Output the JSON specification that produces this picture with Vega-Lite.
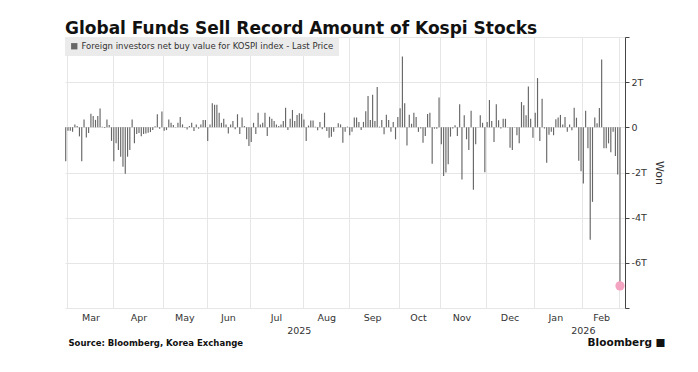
{
  "$schema": "https://vega.github.io/schema/vega-lite/v6.json",
  "autosize": {"type": "none"},
  "padding": {"left": 65, "top": 37, "right": 73, "bottom": 64},
  "width": 560,
  "height": 271,
  "background": "white",
  "config": {"view": {"stroke": null}},
  "title": {
    "text": "Global Funds Sell Record Amount of Kospi Stocks",
    "anchor": "start", "frame": "group", "font": "DejaVu Sans", "fontSize": 17, "fontWeight": "bold",
    "color": "#111111", "baseline": "alphabetic", "offset": 9, "dy": 23
  },
  "data": {"values": [
    {"d":"2025-02-28","v":-1.5},
    {"d":"2025-03-04","v":-0.15},{"d":"2025-03-05","v":-0.15},{"d":"2025-03-06","v":-0.2},{"d":"2025-03-07","v":0.13},{"d":"2025-03-10","v":0.06},
    {"d":"2025-03-11","v":-0.4},{"d":"2025-03-12","v":-1.5},{"d":"2025-03-13","v":0.35},{"d":"2025-03-14","v":-0.45},{"d":"2025-03-17","v":-0.25},
    {"d":"2025-03-18","v":0.6},{"d":"2025-03-19","v":0.5},{"d":"2025-03-20","v":0.33},{"d":"2025-03-21","v":0.5},{"d":"2025-03-24","v":0.83},
    {"d":"2025-03-25","v":0.03},{"d":"2025-03-26","v":-0.03},{"d":"2025-03-27","v":0.35},{"d":"2025-03-28","v":0.1},{"d":"2025-03-31","v":-0.6},
    {"d":"2025-04-01","v":-1.5},{"d":"2025-04-02","v":-0.7},{"d":"2025-04-03","v":-1.0},{"d":"2025-04-04","v":-1.3},{"d":"2025-04-07","v":-1.75},
    {"d":"2025-04-08","v":-2.06},{"d":"2025-04-09","v":-1.3},{"d":"2025-04-10","v":-1.0},{"d":"2025-04-11","v":0.35},{"d":"2025-04-14","v":-0.7},
    {"d":"2025-04-15","v":-0.3},{"d":"2025-04-16","v":-0.25},{"d":"2025-04-17","v":-0.4},{"d":"2025-04-18","v":-0.3},{"d":"2025-04-21","v":-0.27},
    {"d":"2025-04-22","v":-0.24},{"d":"2025-04-23","v":-0.21},{"d":"2025-04-24","v":-0.12},{"d":"2025-04-25","v":0.05},{"d":"2025-04-28","v":0.58},
    {"d":"2025-04-29","v":-0.06},{"d":"2025-04-30","v":0.7},
    {"d":"2025-05-02","v":-0.15},{"d":"2025-05-07","v":-0.12},{"d":"2025-05-08","v":0.35},{"d":"2025-05-09","v":0.2},{"d":"2025-05-12","v":0.1},
    {"d":"2025-05-13","v":0.02},{"d":"2025-05-14","v":0.2},{"d":"2025-05-15","v":0.46},{"d":"2025-05-16","v":0.13},{"d":"2025-05-19","v":-0.02},
    {"d":"2025-05-20","v":-0.1},{"d":"2025-05-21","v":0.06},{"d":"2025-05-22","v":0.2},{"d":"2025-05-23","v":-0.16},{"d":"2025-05-26","v":0.13},
    {"d":"2025-05-27","v":-0.06},{"d":"2025-05-28","v":0.13},{"d":"2025-05-29","v":0.33},{"d":"2025-05-30","v":0.33},
    {"d":"2025-06-02","v":-0.6},{"d":"2025-06-04","v":0.13},{"d":"2025-06-05","v":1.07},{"d":"2025-06-09","v":1.0},{"d":"2025-06-10","v":1.0},
    {"d":"2025-06-11","v":0.65},{"d":"2025-06-12","v":0.2},{"d":"2025-06-13","v":0.38},{"d":"2025-06-16","v":0.13},{"d":"2025-06-17","v":-0.27},
    {"d":"2025-06-18","v":0.13},{"d":"2025-06-19","v":0.28},{"d":"2025-06-20","v":-0.09},{"d":"2025-06-23","v":0.58},{"d":"2025-06-24","v":-0.3},
    {"d":"2025-06-25","v":0.43},{"d":"2025-06-26","v":0.06},{"d":"2025-06-27","v":-0.53},{"d":"2025-06-30","v":-0.83},
    {"d":"2025-07-01","v":-0.65},{"d":"2025-07-02","v":0.2},{"d":"2025-07-03","v":-0.3},{"d":"2025-07-04","v":0.65},{"d":"2025-07-07","v":0.13},
    {"d":"2025-07-08","v":0.2},{"d":"2025-07-09","v":0.65},{"d":"2025-07-10","v":-0.38},{"d":"2025-07-11","v":0.47},{"d":"2025-07-14","v":0.38},
    {"d":"2025-07-15","v":0.28},{"d":"2025-07-16","v":0.13},{"d":"2025-07-17","v":0.06},{"d":"2025-07-18","v":0.13},{"d":"2025-07-21","v":0.28},
    {"d":"2025-07-22","v":0.87},{"d":"2025-07-23","v":-0.12},{"d":"2025-07-24","v":0.38},{"d":"2025-07-25","v":0.77},{"d":"2025-07-28","v":0.28},
    {"d":"2025-07-29","v":0.55},{"d":"2025-07-30","v":0.62},{"d":"2025-07-31","v":0.6},
    {"d":"2025-08-01","v":0.35},{"d":"2025-08-04","v":-0.6},{"d":"2025-08-05","v":0.08},{"d":"2025-08-06","v":0.3},{"d":"2025-08-07","v":0.3},
    {"d":"2025-08-08","v":0.03},{"d":"2025-08-11","v":-0.13},{"d":"2025-08-12","v":0.24},{"d":"2025-08-13","v":-0.08},{"d":"2025-08-14","v":0.65},
    {"d":"2025-08-18","v":-0.16},{"d":"2025-08-19","v":-0.46},{"d":"2025-08-20","v":-0.42},{"d":"2025-08-21","v":-0.2},{"d":"2025-08-22","v":0.02},
    {"d":"2025-08-25","v":0.18},{"d":"2025-08-26","v":0.13},{"d":"2025-08-27","v":-0.68},{"d":"2025-08-28","v":-0.2},{"d":"2025-08-29","v":0.03},
    {"d":"2025-09-01","v":-0.35},{"d":"2025-09-02","v":-0.2},{"d":"2025-09-03","v":0.43},{"d":"2025-09-04","v":0.43},{"d":"2025-09-05","v":0.24},
    {"d":"2025-09-08","v":-0.12},{"d":"2025-09-09","v":0.24},{"d":"2025-09-10","v":0.71},{"d":"2025-09-11","v":1.39},{"d":"2025-09-12","v":0.33},
    {"d":"2025-09-15","v":1.44},{"d":"2025-09-16","v":0.28},{"d":"2025-09-17","v":1.79},{"d":"2025-09-18","v":0.03},{"d":"2025-09-19","v":0.33},
    {"d":"2025-09-22","v":-0.31},{"d":"2025-09-23","v":0.56},{"d":"2025-09-24","v":0.33},{"d":"2025-09-25","v":-0.2},{"d":"2025-09-26","v":0.24},
    {"d":"2025-09-29","v":-0.53},{"d":"2025-09-30","v":0.46},
    {"d":"2025-10-01","v":0.84},{"d":"2025-10-02","v":3.14},{"d":"2025-10-10","v":1.07},{"d":"2025-10-13","v":-0.8},{"d":"2025-10-14","v":0.56},
    {"d":"2025-10-15","v":0.16},{"d":"2025-10-16","v":0.65},{"d":"2025-10-17","v":0.46},{"d":"2025-10-20","v":-0.2},{"d":"2025-10-21","v":-0.05},
    {"d":"2025-10-22","v":-0.68},{"d":"2025-10-23","v":-0.38},{"d":"2025-10-24","v":0.59},{"d":"2025-10-27","v":0.65},{"d":"2025-10-28","v":-1.61},
    {"d":"2025-10-29","v":-0.06},{"d":"2025-10-30","v":-0.06},{"d":"2025-10-31","v":1.32},
    {"d":"2025-11-03","v":-0.75},{"d":"2025-11-04","v":-2.16},{"d":"2025-11-05","v":-2.0},{"d":"2025-11-06","v":-1.64},{"d":"2025-11-07","v":-0.41},
    {"d":"2025-11-10","v":-0.05},{"d":"2025-11-11","v":0.09},{"d":"2025-11-12","v":-0.38},{"d":"2025-11-13","v":1.02},{"d":"2025-11-14","v":-2.31},
    {"d":"2025-11-17","v":0.53},{"d":"2025-11-18","v":-0.53},{"d":"2025-11-19","v":-1.0},{"d":"2025-11-20","v":0.73},{"d":"2025-11-21","v":-2.76},
    {"d":"2025-11-24","v":-0.75},{"d":"2025-11-25","v":0.02},{"d":"2025-11-26","v":0.53},{"d":"2025-11-27","v":0.2},{"d":"2025-11-28","v":-1.99},
    {"d":"2025-12-01","v":0.24},{"d":"2025-12-02","v":1.21},{"d":"2025-12-03","v":0.28},{"d":"2025-12-04","v":-0.65},{"d":"2025-12-05","v":1.02},
    {"d":"2025-12-08","v":0.31},{"d":"2025-12-09","v":-0.05},{"d":"2025-12-10","v":0.38},{"d":"2025-12-11","v":0.38},{"d":"2025-12-12","v":0.02},
    {"d":"2025-12-15","v":-0.9},{"d":"2025-12-16","v":-1.0},{"d":"2025-12-17","v":0.02},{"d":"2025-12-18","v":-0.35},{"d":"2025-12-19","v":-0.71},
    {"d":"2025-12-22","v":1.12},{"d":"2025-12-23","v":0.98},{"d":"2025-12-24","v":0.53},{"d":"2025-12-26","v":1.81},{"d":"2025-12-29","v":0.38},
    {"d":"2025-12-30","v":-0.46},
    {"d":"2026-01-02","v":0.65},{"d":"2026-01-05","v":2.18},{"d":"2026-01-06","v":-0.6},{"d":"2026-01-07","v":1.27},{"d":"2026-01-08","v":-0.05},
    {"d":"2026-01-09","v":-1.57},{"d":"2026-01-12","v":-0.33},{"d":"2026-01-13","v":-0.2},{"d":"2026-01-14","v":-0.35},{"d":"2026-01-15","v":0.36},
    {"d":"2026-01-16","v":0.43},{"d":"2026-01-19","v":0.55},{"d":"2026-01-20","v":0.13},{"d":"2026-01-21","v":0.46},{"d":"2026-01-22","v":-0.2},
    {"d":"2026-01-23","v":0.13},{"d":"2026-01-26","v":-0.13},{"d":"2026-01-27","v":0.87},{"d":"2026-01-28","v":0.42},{"d":"2026-01-29","v":-1.48},
    {"d":"2026-01-30","v":-1.94},
    {"d":"2026-02-02","v":-2.49},{"d":"2026-02-03","v":0.73},{"d":"2026-02-04","v":-0.93},{"d":"2026-02-05","v":-4.98},{"d":"2026-02-06","v":-3.3},
    {"d":"2026-02-09","v":0.43},{"d":"2026-02-10","v":0.18},{"d":"2026-02-11","v":0.86},{"d":"2026-02-12","v":3.0},{"d":"2026-02-13","v":-0.93},
    {"d":"2026-02-19","v":-0.93},{"d":"2026-02-20","v":-0.71},{"d":"2026-02-23","v":-1.1},{"d":"2026-02-24","v":-0.2},{"d":"2026-02-25","v":-1.27},
    {"d":"2026-02-26","v":-2.09},{"d":"2026-02-27","v":-7.02}
  ]},
  "layer": [
    {
      "transform": [{"filter": "datum.v >= 0"}],
      "mark": {"type": "bar"},
      "encoding": {
        "x": {
          "field": "d", "type": "ordinal",
          "scale": {"paddingInner": 0.5, "paddingOuter": 3, "align": 0.03},
          "axis": {
            "orient": "bottom",
            "values": ["2025-03-04","2025-04-01","2025-05-02","2025-06-02","2025-07-01","2025-08-01","2025-09-01","2025-10-01","2025-11-03","2025-12-01","2026-01-02","2026-02-02","2026-02-27"],
            "bandPosition": 0, "grid": true, "gridColor": "#e6e6e6", "labels": false, "ticks": false, "domain": false,
            "title": "Source: Bloomberg, Korea Exchange", "titleX": 3, "titleY": 37, "titleAlign": "left", "titleBaseline": "alphabetic",
            "titleFont": "DejaVu Sans", "titleFontSize": 8.5, "titleFontWeight": "bold", "titleColor": "#111111"
          }
        },
        "y": {
          "field": "v", "type": "quantitative",
          "scale": {"domain": [-8, 4], "nice": false},
          "axis": {
            "orient": "right",
            "values": [-8,-7,-6,-5,-4,-3,-2,-1,0,1,2,3,4],
            "labelExpr": "(datum.value % 2 === 0 && datum.value > -8 && datum.value < 4) ? (datum.value === 0 ? '0' : datum.value + 'T') : ''",
            "grid": true,
            "gridColor": {"condition": {"test": "datum.value % 2 !== 0", "value": "rgba(0,0,0,0)"}, "value": "#e6e6e6"},
            "domain": true, "domainColor": "#444444", "tickColor": "#444444", "tickSize": 4,
            "labelFont": "DejaVu Sans", "labelFontSize": 9.5, "labelColor": "#333333", "labelPadding": 2,
            "title": "Won", "titleFont": "DejaVu Sans", "titleFontSize": 11, "titleFontWeight": "normal", "titleColor": "#333333", "titlePadding": 7
          }
        },
        "color": {
          "datum": "Foreign investors net buy value for KOSPI index - Last Price",
          "scale": {"range": ["#666666"]},
          "legend": {
            "orient": "top-left", "offset": 0, "title": null, "fillColor": "#ebebeb", "padding": 5,
            "symbolType": "square", "symbolSize": 40, "symbolStrokeWidth": 0, "symbolFillColor": "#555555",
            "labelFont": "DejaVu Sans", "labelFontSize": 8.5, "labelColor": "#333333", "labelLimit": 400, "labelOffset": 3
          }
        }
      }
    },
    {
      "transform": [{"filter": "datum.v < 0"}],
      "mark": {"type": "bar"},
      "encoding": {
        "x": {
          "field": "d", "type": "ordinal",
          "axis": {
            "orient": "bottom",
            "values": ["2025-07-30", "2026-02-02"],
            "labelExpr": "utcFormat(toDate(datum.value), '%Y')",
            "labelAngle": 0, "labelPadding": 17, "grid": false, "ticks": false, "domain": false,
            "labelFont": "DejaVu Sans", "labelFontSize": 9.5, "labelColor": "#333333", "title": null
          }
        },
        "y": {"field": "v", "type": "quantitative"},
        "color": {"datum": "Foreign investors net buy value for KOSPI index - Last Price"}
      }
    },
    {
      "transform": [{"filter": "datum.d === '2026-02-27'"}],
      "mark": {"type": "point", "filled": true, "size": 85, "color": "#f4a3c0", "opacity": 1},
      "encoding": {
        "x": {
          "field": "d", "type": "ordinal",
          "axis": {
            "orient": "bottom",
            "values": ["2025-03-18","2025-04-16","2025-05-19","2025-06-17","2025-07-16","2025-08-18","2025-09-15","2025-10-20","2025-11-14","2025-12-15","2026-01-15","2026-02-12"],
            "labelExpr": "utcFormat(toDate(datum.value), '%b')",
            "labelAngle": 0, "labelPadding": 4, "grid": false, "ticks": false, "domain": false,
            "labelFont": "DejaVu Sans", "labelFontSize": 9.5, "labelColor": "#333333",
            "title": "Bloomberg ■", "titleX": 600, "titleY": 37, "titleAlign": "right", "titleBaseline": "alphabetic",
            "titleFont": "DejaVu Sans", "titleFontSize": 10.5, "titleFontWeight": "bold", "titleColor": "#111111"
          }
        },
        "y": {"field": "v", "type": "quantitative"}
      }
    }
  ],
  "resolve": {"axis": {"x": "independent"}}
}
